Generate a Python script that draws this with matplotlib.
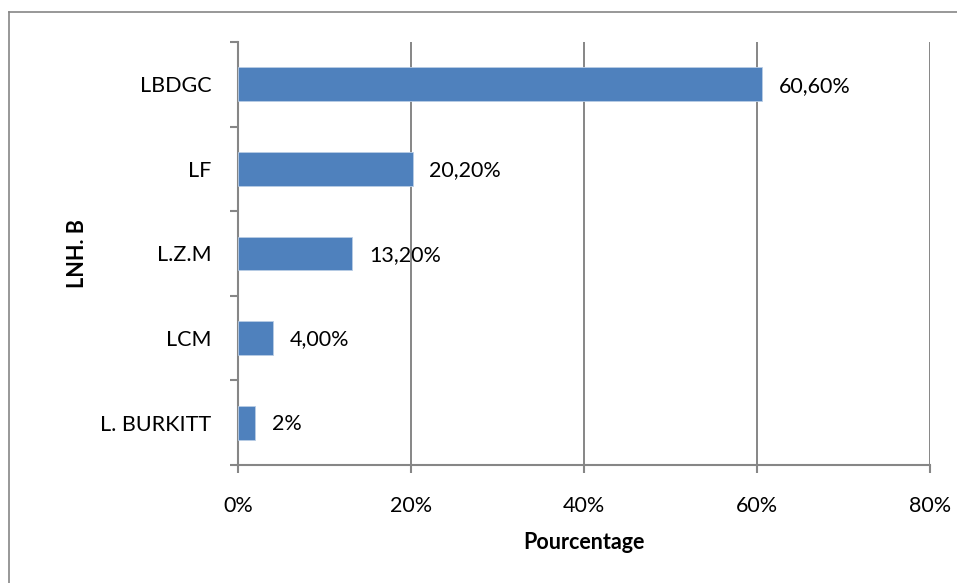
import numpy as np
import matplotlib.pyplot as plt
from matplotlib.lines import Line2D
from matplotlib.ticker import FixedLocator, PercentFormatter

plt.rcParams['font.family'] = ['Lato', 'DejaVu Sans']

categories = ['L. BURKITT', 'LCM', 'L.Z.M', 'LF', 'LBDGC']
values = [2.0, 4.0, 13.2, 20.2, 60.6]
value_labels = ['2%', '4,00%', '13,20%', '20,20%', '60,60%']

grey = '#868686'
blue = '#4F81BD'
fs = 15.5

fig = plt.figure(figsize=(9.57, 5.83), dpi=100)
ax = fig.add_axes([0.2487, 0.2024, 0.7231, 0.7256])

ind = np.arange(len(categories))
ax.barh(ind, values, height=0.4, color=blue, edgecolor='#B9CDE5', linewidth=0.6, zorder=3)

for i, (v, lab) in enumerate(zip(values, value_labels)):
    ax.annotate(lab, (v, i), xytext=(12, -1), textcoords='offset points',
                va='center', ha='left', fontsize=fs, color='black')

ax.set_xlim(0, 80)
ax.set_ylim(-0.5, len(categories) - 0.5)
ax.set_xticks([0, 20, 40, 60, 80])
ax.xaxis.set_major_formatter(PercentFormatter(decimals=0))
ax.set_yticks(ind)
ax.set_yticklabels(categories)
ax.yaxis.set_minor_locator(FixedLocator(np.arange(-0.5, len(categories), 1.0)))

ax.tick_params(axis='y', which='major', length=0, pad=19, labelsize=fs)
ax.tick_params(axis='y', which='minor', length=6, width=1.5, color=grey, direction='out')
ax.tick_params(axis='x', which='major', length=6, width=1.5, color=grey, direction='out',
               pad=16, labelsize=fs)

ax.grid(True, axis='x', color=grey, linewidth=1.4, zorder=0)
for s in ['top', 'right']:
    ax.spines[s].set_visible(False)
for s in ['left', 'bottom']:
    ax.spines[s].set_color(grey)
    ax.spines[s].set_linewidth(1.5)

ax.set_xlabel('Pourcentage', fontsize=fs, fontweight='bold', labelpad=12)
ax.set_ylabel('LNH. B', fontsize=fs, fontweight='bold', labelpad=9)

# chart frame (left and top edges)
fig.add_artist(Line2D([9 / 957, 9 / 957], [0, 1 - 12 / 583], color=grey, linewidth=1.2))
fig.add_artist(Line2D([9 / 957, 1], [1 - 12 / 583, 1 - 12 / 583], color=grey, linewidth=1.2))

fig.savefig('out.png', dpi=100)
